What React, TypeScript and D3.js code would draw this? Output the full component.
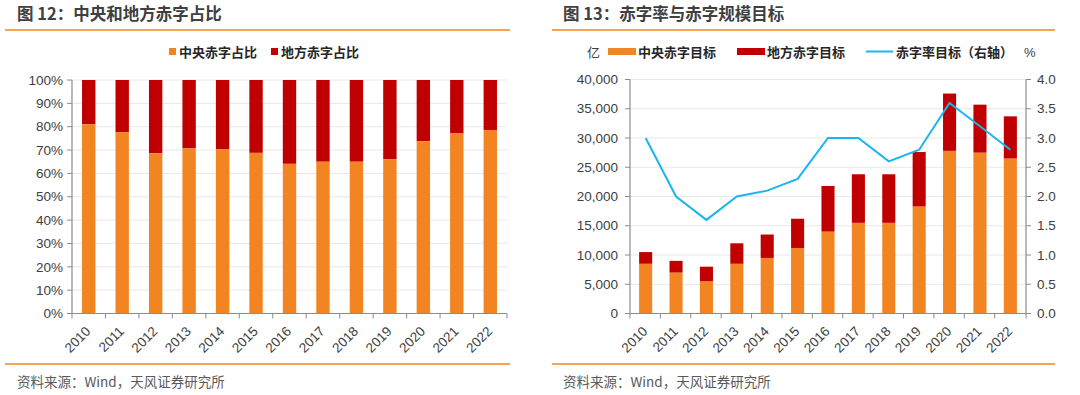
import React from 'react';
import * as d3 from 'd3';

const years = ['2010', '2011', '2012', '2013', '2014', '2015', '2016', '2017', '2018', '2019', '2020', '2021', '2022'];
// 图12: share of central deficit (%), local = 100 - central
const centralShare = [81, 77.7, 68.7, 70.7, 70.4, 68.8, 64.1, 65, 65, 66.1, 73.8, 77.1, 78.6];
// 图13: deficit targets (亿元) and deficit rate target (%)
const centralTarget = [8500, 7000, 5500, 8500, 9500, 11200, 14000, 15500, 15500, 18300, 27800, 27500, 26500];
const localTarget = [2000, 2000, 2500, 3500, 4000, 5000, 7800, 8300, 8300, 9300, 9800, 8200, 7200];
const deficitRate = [3.0, 2.0, 1.6, 2.0, 2.1, 2.3, 3.0, 3.0, 2.6, 2.8, 3.6, 3.2, 2.8];
const pctTicks = [0, 10, 20, 30, 40, 50, 60, 70, 80, 90, 100];
const amtTicks = [0, 5000, 10000, 15000, 20000, 25000, 30000, 35000, 40000];
const rateTicks = [0, 0.5, 1, 1.5, 2, 2.5, 3, 3.5, 4];

const orange = '#F28522';
const red = '#C00000';
const blue = '#1CB5EE';
const axisGray = '#8C8C8C';
const gridGray = '#E8E8E8';
const textGray = '#404040';
const latin = '"Liberation Sans", Arial, sans-serif';
const cjk = '"Noto Sans CJK SC", "Liberation Sans", sans-serif';

function XAxis({ x, y0, right }: { x: d3.ScaleBand<string>; y0: number; right: number }) {
  const left = x.range()[0];
  const step = x.step();
  return (
    <g>
      <line x1={left} x2={right} y1={y0} y2={y0} stroke={axisGray} strokeWidth={1.2} />
      {years.map((_, i) => (
        <line key={i} x1={left + i * step} x2={left + i * step} y1={y0} y2={y0 + 5} stroke={axisGray} />
      ))}
      <line x1={right} x2={right} y1={y0} y2={y0 + 5} stroke={axisGray} />
      {years.map((yr) => {
        const cx = (x(yr) as number) + x.bandwidth() / 2;
        return (
          <text
            key={yr}
            transform={`translate(${cx - 4},${y0 + 12}) rotate(-45)`}
            textAnchor="end"
            dy="0.7em"
            fontSize={13.5}
            fontFamily={latin}
            fill={textGray}
          >
            {yr}
          </text>
        );
      })}
    </g>
  );
}

function LeftChart() {
  const x0 = 72, x1 = 507, yTop = 80, yBot = 313.5;
  const x = d3.scaleBand<string>().domain(years).range([x0, x1]).paddingInner(0.6).paddingOuter(0.3);
  const y = d3.scaleLinear().domain([0, 100]).range([yBot, yTop]);
  return (
    <g>
      <text x={17} y={20} fontSize={16.5} fontWeight="bold" fontFamily={cjk} fill={textGray}>图 12：中央和地方赤字占比</text>
      <line x1={5} x2={510} y1={30} y2={30} stroke={orange} strokeWidth={1.5} />
      <rect x={169} y={48} width={7} height={7} fill={orange} />
      <text x={179} y={57} fontSize={13} fontWeight="bold" fontFamily={cjk} fill="#262626">中央赤字占比</text>
      <rect x={271} y={48} width={7} height={7} fill={red} />
      <text x={281} y={57} fontSize={13} fontWeight="bold" fontFamily={cjk} fill="#262626">地方赤字占比</text>
      {pctTicks.map((t) => (
        <g key={t}>
          {t > 0 && <line x1={x0} x2={x1} y1={y(t)} y2={y(t)} stroke={gridGray} />}
          <line x1={x0 - 5} x2={x0} y1={y(t)} y2={y(t)} stroke={axisGray} />
          <text x={x0 - 9} y={y(t)} dy="0.35em" textAnchor="end" fontSize={13.5} fontFamily={latin} fill={textGray}>{t}%</text>
        </g>
      ))}
      {years.map((yr, i) => (
        <g key={yr}>
          <rect x={x(yr)} y={y(100)} width={x.bandwidth()} height={y(centralShare[i]) - y(100)} fill={red} />
          <rect x={x(yr)} y={y(centralShare[i])} width={x.bandwidth()} height={y(0) - y(centralShare[i])} fill={orange} />
        </g>
      ))}
      <line x1={x0} x2={x0} y1={yTop} y2={yBot} stroke={axisGray} strokeWidth={1.2} />
      <XAxis x={x} y0={yBot} right={x1} />
      <line x1={5} x2={510} y1={364} y2={364} stroke={orange} strokeWidth={1.5} />
      <text x={17} y={387} fontSize={13.5} fontFamily={cjk} fill="#595959">资料来源：Wind，天风证券研究所</text>
    </g>
  );
}

function RightChart() {
  const x0 = 630, x1 = 1026, yTop = 79.5, yBot = 313.5;
  const x = d3.scaleBand<string>().domain(years).range([x0, x1]).paddingInner(0.57).paddingOuter(0.3);
  const y = d3.scaleLinear().domain([0, 40000]).range([yBot, yTop]);
  const yR = d3.scaleLinear().domain([0, 4]).range([yBot, yTop]);
  const line = d3
    .line<number>()
    .x((_, i) => (x(years[i]) as number) + x.bandwidth() / 2)
    .y((d) => yR(d));
  const fmt = d3.format(',');
  return (
    <g>
      <text x={563} y={20} fontSize={16.5} fontWeight="bold" fontFamily={cjk} fill={textGray}>图 13：赤字率与赤字规模目标</text>
      <line x1={552} x2={1055} y1={30} y2={30} stroke={orange} strokeWidth={1.5} />
      <text x={587} y={57} fontSize={13} fontFamily={cjk} fill={textGray}>亿</text>
      <rect x={608} y={48} width={28} height={7} fill={orange} />
      <text x={638} y={57} fontSize={13} fontWeight="bold" fontFamily={cjk} fill="#262626">中央赤字目标</text>
      <rect x={737} y={48} width={28} height={7} fill={red} />
      <text x={767} y={57} fontSize={13} fontWeight="bold" fontFamily={cjk} fill="#262626">地方赤字目标</text>
      <line x1={866} x2={893} y1={51.5} y2={51.5} stroke={blue} strokeWidth={2} />
      <text x={896} y={57} fontSize={13} fontWeight="bold" fontFamily={cjk} fill="#262626">赤字率目标（右轴）</text>
      <text x={1024} y={57} fontSize={13} fontFamily={latin} fill={textGray}>%</text>
      {amtTicks.map((t) => (
        <g key={t}>
          {t > 0 && <line x1={x0} x2={x1} y1={y(t)} y2={y(t)} stroke={gridGray} />}
          <line x1={x0 - 5} x2={x0} y1={y(t)} y2={y(t)} stroke={axisGray} />
          <text x={x0 - 12} y={y(t)} dy="0.35em" textAnchor="end" fontSize={13.5} fontFamily={latin} fill={textGray}>{fmt(t)}</text>
        </g>
      ))}
      {rateTicks.map((t) => (
        <g key={t}>
          <line x1={x1} x2={x1 + 5} y1={yR(t)} y2={yR(t)} stroke={axisGray} />
          <text x={x1 + 11} y={yR(t)} dy="0.35em" fontSize={13.5} fontFamily={latin} fill={textGray}>{t.toFixed(1)}</text>
        </g>
      ))}
      {years.map((yr, i) => (
        <g key={yr}>
          <rect x={x(yr)} y={y(centralTarget[i])} width={x.bandwidth()} height={y(0) - y(centralTarget[i])} fill={orange} />
          <rect x={x(yr)} y={y(centralTarget[i] + localTarget[i])} width={x.bandwidth()} height={y(centralTarget[i]) - y(centralTarget[i] + localTarget[i])} fill={red} />
        </g>
      ))}
      <path d={line(deficitRate) as string} fill="none" stroke={blue} strokeWidth={2} />
      <line x1={x0} x2={x0} y1={yTop} y2={yBot} stroke={axisGray} strokeWidth={1.2} />
      <line x1={x1} x2={x1} y1={yTop} y2={yBot} stroke={axisGray} strokeWidth={1.2} />
      <XAxis x={x} y0={yBot} right={x1} />
      <line x1={552} x2={1055} y1={364} y2={364} stroke={orange} strokeWidth={1.5} />
      <text x={563} y={387} fontSize={13.5} fontFamily={cjk} fill="#595959">资料来源：Wind，天风证券研究所</text>
    </g>
  );
}

export default function App() {
  return (
    <div style={{ position: 'absolute', left: 0, top: 0 }}>
      <svg width={1080} height={395} style={{ display: 'block', background: '#fff' }}>
        <LeftChart />
        <RightChart />
      </svg>
    </div>
  );
}
